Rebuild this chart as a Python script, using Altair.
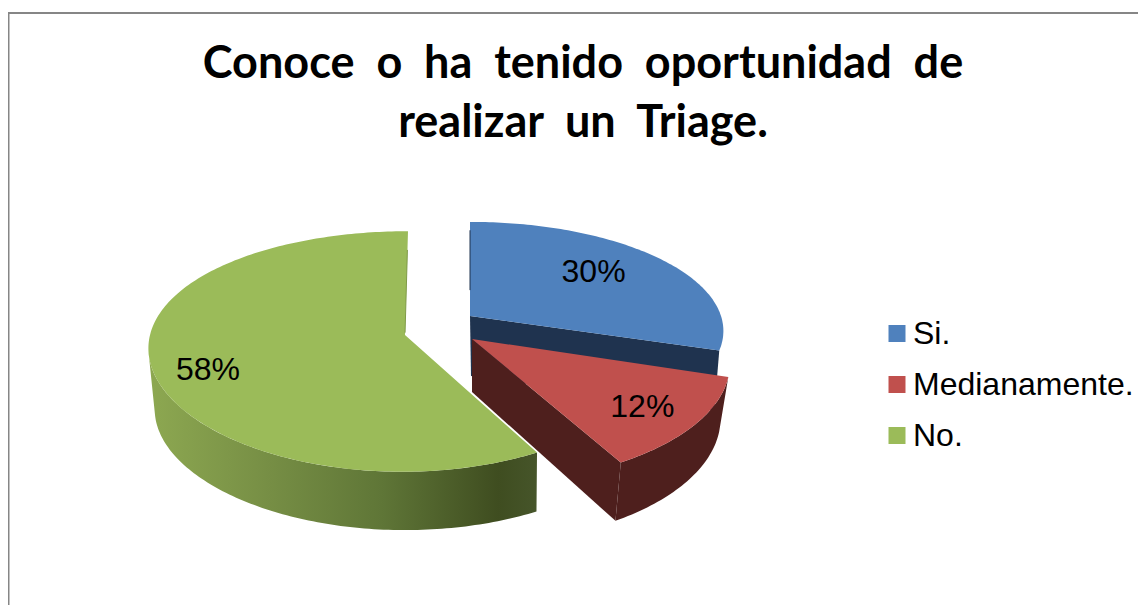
import math
import altair as alt
import pandas as pd

# --- values ---
categories = ["Si.", "Medianamente.", "No."]
shares = [30, 12, 58]
face_colors = ["#4F81BD", "#C0504D", "#9BBB59"]
title_lines = ["Conoce \u00a0o \u00a0ha \u00a0tenido \u00a0oportunidad \u00a0de",
               "realizar \u00a0un \u00a0Triage."]

# --- perspective of each exploded slice (centre, radii, depth) ---
top = [dict(cx=470, cy=316, a=251, b=107, kx=.137, ky=.137, s=0),
       dict(cx=472, cy=339, a=252, b=115, kx=.21, ky=.21, s=0),
       dict(cx=405, cy=335, a=255, b=118, kx=.10, ky=.137, s=-3)]
bot = [dict(cx=471, cy=376, a=245, b=107, kx=.137, ky=.137, s=0),
       dict(cx=472, cy=392, a=243, b=120, kx=.21, ky=.21, s=0),
       dict(cx=405, cy=398, a=249, b=114, kx=.10, ky=.137, s=0)]
label_r = [(.64, -6), (.785, 4), (.78, 11)]

def pt(g, deg, r=1.0):
    t = math.radians(deg)
    X, Y = r * math.sin(t), -r * math.cos(t)
    return (g["cx"] + g["a"] * X / (1 - g["kx"] * Y) + g["s"] * Y,
            g["cy"] + g["b"] * Y / (1 - g["ky"] * Y))

def arc(g, d0, d1):
    n = max(2, int(abs(d1 - d0)) + 1)
    return [pt(g, d0 + (d1 - d0) * i / (n - 1)) for i in range(n)]

def frame(points, cat=None):
    rows = [{"x": x, "y": y, "i": i, "cat": cat} for i, (x, y) in enumerate(points + points[:1])]
    return pd.DataFrame(rows)

X = alt.X("x:Q", scale=alt.Scale(domain=[8, 1138], nice=False, zero=False), axis=None)
Y = alt.Y("y:Q", scale=alt.Scale(domain=[605, 8], nice=False, zero=False), axis=None)
O = alt.Order("i:Q")

def poly(points, fill):
    return alt.Chart(frame(points)).mark_line(filled=True, fill=fill, stroke=None, strokeWidth=0).encode(x=X, y=Y, order=O)

def edge(points, color, w=1.5):
    return alt.Chart(pd.DataFrame([{"x": x, "y": y, "i": i} for i, (x, y) in enumerate(points)])).mark_line(color=color, strokeWidth=w).encode(x=X, y=Y, order=O)

def face(idx, d0, d1):
    g = top[idx]
    pts = [(g["cx"], g["cy"])] + arc(g, d0, d1)
    return alt.Chart(frame(pts, categories[idx])).mark_line(filled=True, strokeWidth=0).encode(
        x=X, y=Y, order=O,
        color=alt.Color("cat:N",
            scale=alt.Scale(domain=categories, range=face_colors),
            legend=alt.Legend(title=None, orient="none", legendX=873, legendY=309.5,
                              symbolType="square", symbolSize=289, symbolStrokeWidth=0,
                              labelFont="Liberation Sans", labelFontSize=32, labelColor="#000000",
                              labelOffset=0, rowPadding=19, padding=0, labelLimit=400)))

# slice angles
start = [0]
for s in shares:
    start.append(start[-1] + s * 3.6)

green_wall = alt.Gradient(gradient="linear", x1=0, x2=1, y1=0, y2=0, stops=[
    alt.GradientStop(offset=0, color="#8DA851"), alt.GradientStop(offset=.3, color="#778F45"),
    alt.GradientStop(offset=.6, color="#5F7637"), alt.GradientStop(offset=.9, color="#3F4D20"),
    alt.GradientStop(offset=1, color="#46552A")])

layers = []
# Si.
layers.append(poly([pt(top[0], start[1]), (top[0]["cx"], top[0]["cy"]), (bot[0]["cx"], bot[0]["cy"]), pt(bot[0], start[1])], "#1F334F"))
layers.append(face(0, start[0], start[1]))
layers.append(edge([pt(top[0], 0, .25), pt(top[0], 0, .9)], "#1F334F", 1))
# Medianamente.
layers.append(poly([(top[1]["cx"], top[1]["cy"]), pt(top[1], start[2]), pt(bot[1], start[2]), (bot[1]["cx"], bot[1]["cy"])], "#4E1F1D"))
layers.append(poly(arc(top[1], start[1], start[2]) + arc(bot[1], start[2], start[1]), "#4E1F1D"))
layers.append(face(1, start[1], start[2]))
# No.
layers.append(poly(arc(top[2], start[2], 262) + arc(bot[2], 262, start[2]), green_wall))
layers.append(face(2, start[2], start[3]))
layers.append(edge([pt(top[2], 360, .02), pt(top[2], 360, .8)], "#7F9A48", 1))

# data labels
lab = []
for i, s in enumerate(shares):
    mid = (start[i] + start[i + 1]) / 2
    x, y = pt(top[i], mid, label_r[i][0])
    lab.append({"x": x, "y": y + label_r[i][1], "t": f"{s}%"})
layers.append(alt.Chart(pd.DataFrame(lab)).mark_text(font="Liberation Sans", fontSize=32, color="#000000", baseline="middle").encode(x=X, y=Y, text="t:N"))

# outer frame of the picture
layers.append(alt.Chart(pd.DataFrame({"a": [0]})).mark_rule(color="#868686", strokeWidth=2).encode(
    x=alt.value(0), x2=alt.value(1130), y=alt.value(5)))
layers.append(alt.Chart(pd.DataFrame({"a": [0]})).mark_rule(color="#868686", strokeWidth=2).encode(
    x=alt.value(.5), y=alt.value(5), y2=alt.value(597)))

chart = alt.layer(*layers).properties(
    width=1130, height=597, padding=0, autosize=alt.AutoSizeParams(type="none"),
    title=alt.TitleParams(text=title_lines, font="Lato", fontSize=45, fontWeight="bold", color="#000000",
                          anchor="middle", lineHeight=59, offset=-138, dx=10)
).configure_view(stroke=None)

chart.save("out.html", embed_options={"renderer": "svg", "actions": False})
